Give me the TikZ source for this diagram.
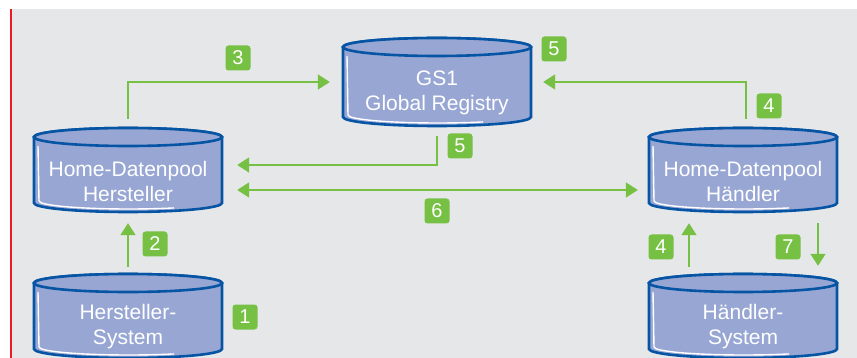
\documentclass[tikz,border=0pt]{standalone}
\usepackage{fontspec}
\setmainfont{Liberation Sans}
\usepackage{xcolor}
\usetikzlibrary{arrows.meta,positioning,calc}

\definecolor{bggray}{HTML}{E6E7E8}
\definecolor{edgered}{HTML}{ED1C24}
\definecolor{cylblue}{HTML}{98A6D4}
\definecolor{cyldark}{HTML}{0654A4}
\definecolor{flowgreen}{HTML}{76C043}

% cylinder: name, centre x, top y, bottom y, text
\newcommand{\datacyl}[5]{%
  \path[cylbody] (#2-94,#3) -- (#2-94,#4)
    arc[start angle=180,end angle=0,x radius=94,y radius=9]
    -- (#2+94,#3)
    arc[start angle=0,end angle=-180,x radius=94,y radius=9] -- cycle;
  \draw[cylhigh] (#2-90,#3+9) -- (#2-89,#4-2)
    arc[start angle=180,end angle=60,x radius=90,y radius=8];
  \draw[cylbody] (#2,#3) ellipse[x radius=94,y radius=9];
  \node[inner sep=0pt,minimum width=188pt,minimum height={#4-#3+18}] (#1) at (#2,{(#3+#4)/2}) {};
  \node[cyltext] (#1-txt) at (#2,{(#3+#4)/2+11}) {#5};
}

\begin{document}
\begin{tikzpicture}[x=1pt,y=-1pt,
  >={Triangle[length=12pt,width=15pt]},
  cylbody/.style={fill=cylblue,draw=cyldark,line width=2.6pt},
  cylhigh/.style={white,line width=1.4pt},
  cyltext/.style={text=white,align=center,font=\fontsize{21}{25}\selectfont},
  flow/.style={draw=flowgreen,line width=1.8pt},
  numbox/.style={fill=flowgreen,text=white,rounded corners=3pt,minimum size=25pt,
    inner sep=0pt,font=\fontsize{20}{20}\selectfont}]
\useasboundingbox (0,0) rectangle (857,358);

% background and margin line
\fill[bggray] (12,9) rectangle (857,358);
\draw[edgered,line width=2pt] (11,9) -- (11,358);

% data pools
\datacyl{gsr}{437}{47}{117}{GS1\\Global Registry}
\datacyl{hdp}{128}{137}{203}{Home-Datenpool\\Hersteller}
\datacyl{hdh}{743}{137}{203}{Home-Datenpool\\Händler}
\datacyl{hsys}{128}{283}{349}{Hersteller-\\System}
\datacyl{hasys}{743}{283}{349}{Händler-\\System}

% data flows
\draw[flow,->] ([yshift=9pt]hdp.north) |- ([xshift=-13pt]gsr.west);
\draw[flow,->] ([xshift=3pt,yshift=9pt]hdh.north) |- ([xshift=12pt]gsr.east);
\coordinate (p5) at ([xshift=15pt,yshift=5pt]hdp.east);
\draw[flow,->] ([yshift=-10pt]gsr.south) |- (p5);
\draw[flow,<->] ([xshift=15pt,yshift=-20pt]hdp.east) -- ([xshift=-11pt,yshift=-20pt]hdh.west);
\draw[flow,->] ([yshift=7pt]hsys.north) -- ([yshift=-11pt]hdp.south);
\draw[flow,->] ([xshift=-54pt,yshift=7pt]hasys.north) -- ([xshift=-54pt,yshift=-11pt]hdh.south);
\draw[flow,->] ([xshift=75pt,yshift=-11pt]hdh.south) -- ([xshift=75pt,yshift=8pt]hasys.north);

% step numbers
\node[numbox] (n1) at (245,317) {1};
\node[numbox] (n2) at (155,244) {2};
\node[numbox] (n3) at (238,58) {3};
\node[numbox] (n4a) at (769,106) {4};
\node[numbox] (n4b) at (661,247) {4};
\node[numbox] (n5a) at (554,49) {5};
\node[numbox] (n5b) at (460,146) {5};
\node[numbox] (n6) at (437,211) {6};
\node[numbox] (n7) at (788,247) {7};

\end{tikzpicture}
\end{document}
